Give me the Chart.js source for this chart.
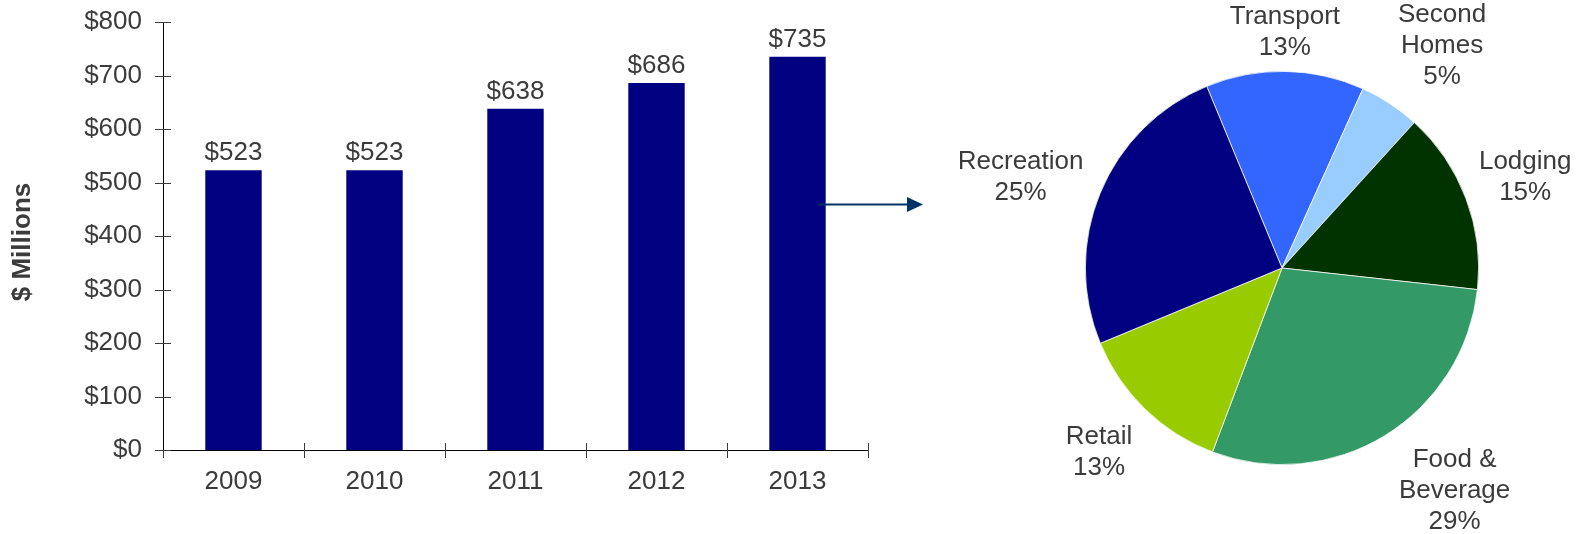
<!DOCTYPE html>
<html>
<head>
<meta charset="utf-8">
<script src="https://cdn.jsdelivr.net/npm/chart.js@4"></script>
<style>
  html, body { margin: 0; padding: 0; background: #ffffff; }
  body { width: 1579px; height: 534px; position: relative; overflow: hidden; }
  #barWrap { position: absolute; left: 0; top: 0; width: 960px; height: 534px; }
  #pieWrap { position: absolute; left: 960px; top: 0; width: 619px; height: 534px; }
</style>
</head>
<body>
<div id="barWrap"><canvas id="bars"></canvas></div>
<div id="pieWrap"><canvas id="pie"></canvas></div>
<script>
// Annual spending, $ millions
const years = ['2009', '2010', '2011', '2012', '2013'];
const spending = [523, 523, 638, 686, 735];
const yTicks = [0, 100, 200, 300, 400, 500, 600, 700, 800];

// Spending share by category (%), clockwise from the top
const categories = [['Transport'], ['Second', 'Homes'], ['Lodging'], ['Food &', 'Beverage'], ['Retail'], ['Recreation']];
const shares = [13, 5, 15, 29, 13, 25];
const sliceColors = ['#3366FF', '#99CCFF', '#003300', '#339966', '#99CC00', '#000080'];

const FONT = "'Liberation Sans', Arial, sans-serif";
const TEXT = '#3b3b3b';

// Label placement around the pie: [extra distance past the rim, angle tweak in degrees]
const pieLabelPlacement = [[39, -0.2], [77, 2.5], [63, 0.2], [85, -6.3], [63, 0.7], [80, -3.4]];

// Cross-style tick marks, value labels, axis title and pointer arrow
const barDecor = {
  id: 'barDecor',
  afterDraw(chart) {
    const ctx = chart.ctx;
    const xs = chart.scales.x, ys = chart.scales.y;
    const area = chart.chartArea;
    ctx.save();
    ctx.strokeStyle = '#3b3b3b';
    ctx.lineWidth = 1;
    // y ticks crossing the axis
    ys.ticks.forEach(t => {
      const y = Math.round(ys.getPixelForValue(t.value)) + 0.5;
      ctx.beginPath();
      ctx.moveTo(area.left - 8, y);
      ctx.lineTo(area.left + 8, y);
      ctx.stroke();
    });
    // category boundary ticks crossing the x axis
    const half = (xs.getPixelForValue(1) - xs.getPixelForValue(0)) / 2;
    for (let i = 0; i <= years.length; i++) {
      const x = Math.round(xs.getPixelForValue(i) - half) + 0.5;
      ctx.beginPath();
      ctx.moveTo(x, area.bottom - (i === 0 ? 0 : 7));
      ctx.lineTo(x, area.bottom + 8);
      ctx.stroke();
    }
    // value labels above bars
    ctx.fillStyle = TEXT;
    ctx.font = '26px ' + FONT;
    ctx.textAlign = 'center';
    ctx.textBaseline = 'alphabetic';
    const meta = chart.getDatasetMeta(0);
    meta.data.forEach((bar, i) => {
      ctx.fillText('$' + spending[i], bar.x, bar.y - 10);
    });
    // axis title
    ctx.save();
    ctx.translate(23, (area.top + area.bottom) / 2 + 6);
    ctx.rotate(-Math.PI / 2);
    ctx.font = 'bold 26px ' + FONT;
    ctx.textBaseline = 'middle';
    ctx.fillText('$ Millions', 0, 0);
    ctx.restore();
    // pointer arrow from the latest bar toward the pie
    const last = meta.data[meta.data.length - 1];
    const ay = Math.round(area.top + area.height * 0.425) + 0.5;
    const x0 = last.x + last.width / 2 - 7;
    const x1 = area.right + 55;
    ctx.strokeStyle = '#003366';
    ctx.fillStyle = '#003366';
    ctx.lineWidth = 2;
    ctx.beginPath();
    ctx.moveTo(x0, ay);
    ctx.lineTo(x1 - 14, ay);
    ctx.stroke();
    ctx.beginPath();
    ctx.moveTo(x1 - 16, ay - 7.5);
    ctx.lineTo(x1, ay);
    ctx.lineTo(x1 - 16, ay + 7.5);
    ctx.closePath();
    ctx.fill();
    ctx.restore();
  }
};

new Chart(document.getElementById('bars'), {
  type: 'bar',
  data: {
    labels: years,
    datasets: [{
      data: spending,
      backgroundColor: '#000080',
      borderWidth: 0,
      categoryPercentage: 1.0,
      barPercentage: 0.4
    }]
  },
  options: {
    responsive: true,
    maintainAspectRatio: false,
    animation: false,
    layout: { padding: { left: 0, top: 22, right: 92, bottom: 0 } },
    plugins: { legend: { display: false }, tooltip: { enabled: false } },
    scales: {
      x: {
        grid: { display: false, drawTicks: false },
        border: { display: true, color: '#000000', width: 1 },
        ticks: { color: TEXT, font: { family: FONT, size: 26 }, padding: 16, maxRotation: 0 },
        afterFit(s) { s.height = 84; s.paddingLeft = 0; s.paddingRight = 0; }
      },
      y: {
        min: 0,
        max: 800,
        afterBuildTicks(s) { s.ticks = yTicks.map(v => ({ value: v })); },
        grid: { display: false, drawTicks: false },
        border: { display: true, color: '#000000', width: 1 },
        ticks: { color: TEXT, font: { family: FONT, size: 26 }, padding: 21, callback: v => '$' + v },
        afterFit(s) { s.width = 163; s.paddingTop = 0; s.paddingBottom = 0; }
      }
    }
  },
  plugins: [barDecor]
});

// Category names and percentages placed outside each slice
const pieLabels = {
  id: 'pieLabels',
  afterDraw(chart) {
    const ctx = chart.ctx;
    const meta = chart.getDatasetMeta(0);
    ctx.save();
    ctx.fillStyle = TEXT;
    ctx.font = '26px ' + FONT;
    ctx.textAlign = 'center';
    ctx.textBaseline = 'middle';
    const lineGap = 31;
    meta.data.forEach((arc, i) => {
      const [extra, tweak] = pieLabelPlacement[i];
      const mid = (arc.startAngle + arc.endAngle) / 2 + tweak * Math.PI / 180;
      const r = arc.outerRadius + extra;
      const cx = arc.x + r * Math.cos(mid);
      const cy = arc.y + r * Math.sin(mid);
      const lines = categories[i].concat([shares[i] + '%']);
      const y0 = cy - (lines.length - 1) * lineGap / 2;
      lines.forEach((t, k) => ctx.fillText(t, cx, y0 + k * lineGap));
    });
    ctx.restore();
  }
};

new Chart(document.getElementById('pie'), {
  type: 'pie',
  data: {
    labels: categories.map(c => c.join(' ')),
    datasets: [{
      data: shares,
      backgroundColor: sliceColors,
      borderColor: '#ffffff',
      borderWidth: 0.75
    }]
  },
  options: {
    responsive: true,
    maintainAspectRatio: false,
    animation: false,
    rotation: -22.5,
    layout: { padding: { left: 125, right: 100, top: 71, bottom: 69 } },
    plugins: { legend: { display: false }, tooltip: { enabled: false } }
  },
  plugins: [pieLabels]
});
</script>
</body>
</html>
